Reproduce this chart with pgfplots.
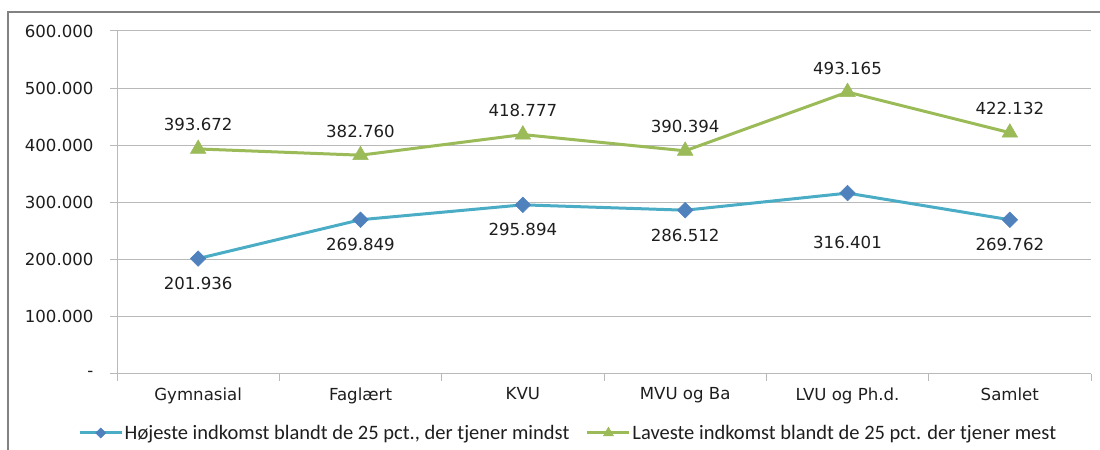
\documentclass[border=0pt]{standalone}
\usepackage{fontspec}
\setmainfont{DejaVu Sans}
\newfontfamily\calibri{Carlito}
\usepackage{pgfplots}
\pgfplotsset{compat=1.18}
\definecolor{blueline}{HTML}{4BACC6}
\definecolor{bluemark}{HTML}{4F81BD}
\definecolor{greenline}{HTML}{9BBB59}
\definecolor{gridc}{RGB}{185,185,185}
\definecolor{framec}{RGB}{130,130,130}
\definecolor{txt}{RGB}{30,30,30}
\begin{document}
\begin{tikzpicture}[x=1bp,y=1bp]
\path[use as bounding box] (0,0) rectangle (1100,450);
\draw[framec, line width=1.5bp] (8,-5) -- (8,438) -- (1105,438);
\begin{axis}[
  at={(117bp,76bp)}, anchor=south west,
  scale only axis, width=974bp, height=343bp,
  xmin=-0.5, xmax=5.5, ymin=0, ymax=600000,
  axis x line*=bottom, axis y line*=left,
  x axis line style={-, gridc, line width=1bp},
  y axis line style={-, gridc, line width=1bp},
  scaled y ticks=false,
  ytick={0,100000,200000,300000,400000,500000,600000},
  yticklabels={-,100.000,200.000,300.000,400.000,500.000,600.000},
  xtick={-0.5,0.5,1.5,2.5,3.5,4.5,5.5},
  x tick label as interval,
  xticklabels={Gymnasial,Faglært,KVU,MVU og Ba,LVU og Ph.d.,Samlet},
  ymajorgrids, grid style={gridc, line width=1bp},
  tick align=outside, major tick length=7bp,
  tick style={gridc, line width=1bp},
  ticklabel style={font=\fontsize{16.6bp}{19bp}\selectfont, text=txt},
  yticklabel style={xshift=-13bp},
  xticklabel style={yshift=-3bp},
  clip=false,
  legend columns=2,
  legend cell align=left,
  legend style={at={(-0.04,-0.172)}, anchor=west, draw=none, fill=none,
    font=\calibri\fontsize{20.5bp}{23bp}\selectfont, text=txt, inner sep=0pt,
    /tikz/every even column/.append style={column sep=15bp},
    nodes={inner sep=1.5bp}},
  legend image code/.code={\draw[#1, mark repeat=2, mark phase=2, every mark/.append style={scale=0.65}] plot coordinates {(0bp,0bp) (21bp,0bp) (42bp,0bp)};},
]
\addplot[blueline, line width=3bp, mark=square*, mark size=5.5bp,
  mark options={rotate=45, fill=bluemark, draw=bluemark, line width=0.5bp}]
  coordinates {(0,201936)(1,269849)(2,295894)(3,286512)(4,316401)(5,269762)};
\addlegendentry{Højeste indkomst blandt de 25 pct., der tjener mindst}
\addplot[greenline, line width=3bp, mark=triangle*, mark size=9bp,
  mark options={fill=greenline, draw=greenline, line width=0.5bp}]
  coordinates {(0,393672)(1,382760)(2,418777)(3,390394)(4,493165)(5,422132)};
\addlegendentry{Laveste indkomst blandt de 25 pct. der tjener mest}
% labels below blue
\addplot[draw=none, forget plot, nodes near coords, point meta=explicit symbolic,
  every node near coord/.append style={anchor=center, yshift=-25bp,
    font=\fontsize{16.6bp}{19bp}\selectfont, text=txt}]
  coordinates {(0,201936)[201.936] (1,269849)[269.849] (2,295894)[295.894] (3,286512)[286.512] (5,269762)[269.762]};
\addplot[draw=none, forget plot, nodes near coords, point meta=explicit symbolic,
  every node near coord/.append style={anchor=center, yshift=-49bp,
    font=\fontsize{16.6bp}{19bp}\selectfont, text=txt}]
  coordinates {(4,316401)[316.401]};
% labels above green
\addplot[draw=none, forget plot, nodes near coords, point meta=explicit symbolic,
  every node near coord/.append style={anchor=center, yshift=24bp,
    font=\fontsize{16.6bp}{19bp}\selectfont, text=txt}]
  coordinates {(0,393672)[393.672] (1,382760)[382.760] (2,418777)[418.777] (3,390394)[390.394] (4,493165)[493.165] (5,422132)[422.132]};
\end{axis}
\end{tikzpicture}
\end{document}
